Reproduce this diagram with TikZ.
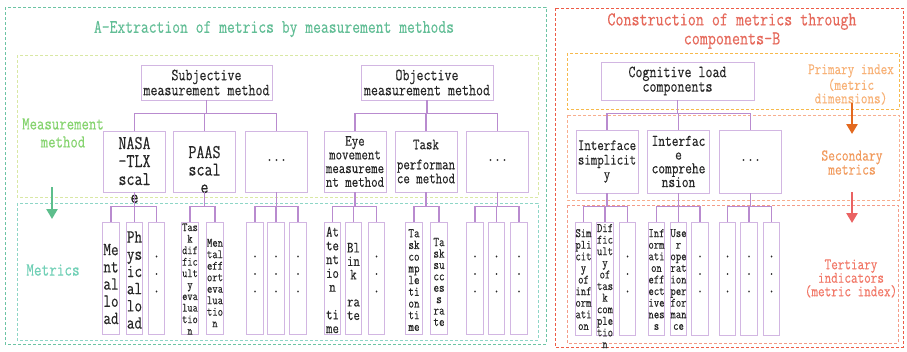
\documentclass[tikz,border=0pt]{standalone}
\usepackage{fontspec}
\newfontfamily\mf[FakeStretch=0.8,FakeBold=0.3]{Latin Modern Mono}
\usetikzlibrary{arrows.meta}
\definecolor{boxc}{HTML}{D2B6E2}
\definecolor{connc}{HTML}{B98BCF}
\definecolor{gOut}{HTML}{6CC4A4}
\definecolor{gTitle}{HTML}{62BE96}
\definecolor{ygBox}{HTML}{D9E8A4}
\definecolor{tealBox}{HTML}{8ED6C6}
\definecolor{mmText}{HTML}{86D46F}
\definecolor{metText}{HTML}{70D0B6}
\definecolor{gArrow}{HTML}{5DBE8C}
\definecolor{rOut}{HTML}{EE5B46}
\definecolor{rTitle}{HTML}{E6685A}
\definecolor{oBox}{HTML}{F6B94C}
\definecolor{sBox}{HTML}{F8AE8E}
\definecolor{tBox}{HTML}{F49C88}
\definecolor{priText}{HTML}{F8B277}
\definecolor{oArrow}{HTML}{E3691F}
\definecolor{secText}{HTML}{F29A5C}
\definecolor{rArrow}{HTML}{EA6262}
\definecolor{terText}{HTML}{F27868}
\newcommand\mysz[2]{\fontsize{#1}{#2}\selectfont}
\begin{document}
\begin{tikzpicture}[x=1pt,y=-1pt,
  box/.style={draw=boxc, line width=0.9pt, inner sep=0pt, align=center, text=black!85, font=\mf\mysz{16}{14}},
  topbox/.style={box, minimum width=131pt, minimum height=35pt, font=\mf\mysz{17}{15}},
  midbox/.style={box, minimum width=62pt, minimum height=61pt},
  leaf/.style={box, minimum width=16.5pt, minimum height=112pt},
  txt/.style={inner sep=0pt, align=center, text=black!85, font=\mf},
  conn/.style={draw=connc, line width=1.8pt},
  dbox/.style={dash pattern=on 3pt off 2pt, line width=0.9pt},
  bigarrow/.style={line width=2.6pt, -{Triangle[length=10pt,width=11pt]}},
  lbl/.style={inner sep=0pt, align=center, font=\mf\mysz{16}{13.5}}]
\useasboundingbox[fill=white] (0,0) rectangle (907,351);

% ---------- frames ----------
\draw[dbox, draw=gOut] (5,7) rectangle (546,344);
\draw[dbox, draw=ygBox] (17,55) rectangle (538,197);
\draw[dbox, draw=tealBox] (17,203) rectangle (538,340);
\draw[dbox, draw=rOut] (555,8) rectangle (903,347);
\draw[dbox, draw=oBox] (567,53) rectangle (899,109);
\draw[dbox, draw=sBox] (567,115) rectangle (899,200);
\draw[dbox, draw=tBox] (567,205) rectangle (898,343);

% ---------- titles and side labels ----------
\node[txt, text=gTitle, font=\mf\mysz{19}{19}] (titleA) at (274,29) {A-Extraction of metrics by measurement methods};
\node[txt, text=rTitle, font=\mf\mysz{19.5}{19}] (titleB) at (732,31) {Construction of metrics through\\components-B};
\node[lbl, text=mmText, font=\mf\mysz{18}{18}] (mm) at (63,133) {Measurement\\method};
\node[lbl, text=metText, font=\mf\mysz{18.5}{18}] (met) at (53,270) {Metrics};
\coordinate (ga1) at (52,187); \coordinate (ga2) at (52,219);
\draw[bigarrow, draw=gArrow, fill=gArrow] (ga1) -- (ga2);

\node[lbl, text=priText] (pri) at (851,84.5) {Primary index\\(metric\\dimensions)};
\node[lbl, text=secText, font=\mf\mysz{16.5}{14}] (sec) at (852,162.5) {Secondary\\metrics};
\node[lbl, text=terText] (ter) at (851,278.5) {Tertiary\\indicators\\(metric index)};
\coordinate (oa1) at (852,103); \coordinate (oa2) at (852,134);
\coordinate (ra1) at (852,192); \coordinate (ra2) at (852,223);
\draw[bigarrow, draw=oArrow, fill=oArrow] (oa1) -- (oa2);
\draw[bigarrow, draw=rArrow, fill=rArrow] (ra1) -- (ra2);

% ---------- level 1 ----------
\node[topbox] (subj) at (206.5,82.5) {Subjective\\measurement method};
\node[topbox, minimum width=132pt] (obj) at (427,82.5) {Objective\\measurement method};
\node[topbox, minimum width=153pt, minimum height=38pt, font=\mf\mysz{17}{14.5}] (cog) at (677.5,81) {Cognitive load\\components};

% ---------- level 2 ----------
\node[midbox] (nasa) at (134.5,161.5) {};
\node[midbox] (paas) at (204.5,161.5) {};
\node[midbox, font=\mf\mysz{17}{14}] (sd) at (276.5,161.5) {\raisebox{3pt}{...}};
\node[midbox, font=\mf\mysz{15.7}{13.7}] (eye) at (355,161.5) {Eye\\movement\\measureme\\nt method};
\node[midbox, font=\mf\mysz{15.7}{14}] (tp) at (426,161.5) {Task\\[6pt]performan\\ce method};
\node[midbox, font=\mf\mysz{17}{14}] (od) at (497.5,161.5) {\raisebox{3pt}{...}};
\node[midbox, minimum height=63pt, font=\mf\mysz{15.7}{14.5}] (isimp) at (607,161.5) {Interface\\simplicit\\y};
\node[midbox, minimum height=63pt, font=\mf\mysz{16.3}{13.7}] (icomp) at (678.5,161.5) {Interfac\\e\\comprehe\\nsion};
\node[midbox, minimum height=63pt, font=\mf\mysz{17}{14}] (cd) at (750.5,161.5) {\raisebox{3pt}{...}};
\node[txt, font=\mf\mysz{19.5}{18}] (nasaT) at (134.5,170) {NASA\\-TLX\\scal\\e};
\node[txt, font=\mf\mysz{19.5}{17.5}] (paasT) at (204.5,169.5) {PAAS\\scal\\e};

% ---------- level 3 ----------
\foreach \n/\x in {l1/111, l2/134.5, l3/156.5, l4/190, l5/215, l6/255, l7/276, l8/298,
                   o1/332.5, o2/353.5, o3/376.5, o4/414, o5/439, o6/475, o7/496.5, o8/519}
  \node[leaf] (\n) at (\x,278) {};
\foreach \n/\x in {r1/583.5, r2/605, r3/627.5, r4/656.5, r5/678.5, r6/700, r7/727.5, r8/749, r9/771.5}
  \node[leaf, minimum height=113pt] (\n) at (\x,278.5) {};

\node[txt, font=\mf\mysz{18.5}{17.2}] (l1T) at (l1 |- 0,284) {Me\\nt\\al\\lo\\ad};
\node[txt, font=\mf\mysz{18.5}{17.2}] (l2T) at (l2 |- 0,280) {Ph\\ys\\ic\\al\\lo\\ad};
\node[txt, font=\mf\mysz{12.6}{11.5}] (l4T) at (l4 |- 0,279) {Tas\\k\\dif\\fic\\ult\\y\\eva\\lua\\tio\\n};
\node[txt, font=\mf\mysz{13}{11.5}] (l5T) at (l5 |- 0,283) {Men\\tal\\eff\\ort\\eva\\lua\\tio\\n};
\node[txt, font=\mf\mysz{15.5}{13.8}] (o1T) at (o1 |- 0,280) {At\\te\\nt\\io\\n\\[13.8pt]ti\\me};
\node[txt, font=\mf\mysz{15.5}{13.5}] (o2T) at (o2 |- 0,281.5) {Bl\\in\\k\\[13.5pt]ra\\te};
\node[txt, font=\mf\mysz{13.5}{11.7}] (o4T) at (o4 |- 0,280) {Ta\\sk\\co\\mp\\le\\ti\\on\\ti\\me};
\node[txt, font=\mf\mysz{13.5}{11.4}] (o5T) at (o5 |- 0,282) {Ta\\sk\\su\\cc\\es\\s\\ra\\te};
\node[txt, font=\mf\mysz{13}{11.6}] (r1T) at (r1 |- 0,279.5) {Sim\\pli\\cit\\y\\of\\inf\\orm\\ati\\on};
\node[txt, font=\mf\mysz{13}{11.6}] (r2T) at (r2 |- 0,286) {Dif\\fic\\ult\\y\\of\\tas\\k\\com\\ple\\tio\\n};
\node[txt, font=\mf\mysz{13}{11.6}] (r4T) at (r4 |- 0,279.5) {Inf\\orm\\ati\\on\\eff\\ect\\ive\\nes\\s};
\node[txt, font=\mf\mysz{13}{11.6}] (r5T) at (r5 |- 0,279.5) {Use\\r\\ope\\rat\\ion\\per\\for\\man\\ce};
\foreach \n in {l3,l6,l7,l8,o3,o6,o7,o8,r3,r6,r7,r8,r9}
  \node[txt, font=\mf\mysz{16}{17.5}] (\n T) at (\n |- 0,274) {.\\.\\.};

% ---------- connectors ----------
\foreach \c in {nasa,paas,sd} \draw[conn] (subj.south) -- ++(0,13) -| (\c.north);
\foreach \c in {eye,tp,od} \draw[conn] (obj.south) -- ++(0,13) -| (\c.north);
\foreach \c in {isimp,icomp,cd} \draw[conn] (cog.south) -- ++(0,13) -| (\c.north);
\foreach \p/\cs in {nasa/{l1,l2,l3}, paas/{l4,l5}, sd/{l6,l7,l8},
                    eye/{o1,o2,o3}, tp/{o4,o5}, od/{o6,o7,o8}}
  \foreach \c in \cs \draw[conn] (\p.south) -- ++(0,14) -| (\c.north);
\foreach \p/\cs in {isimp/{r1,r2,r3}, icomp/{r4,r5,r6}, cd/{r7,r8,r9}}
  \foreach \c in \cs \draw[conn] (\p.south) -- ++(0,13) -| (\c.north);
\end{tikzpicture}
\end{document}
